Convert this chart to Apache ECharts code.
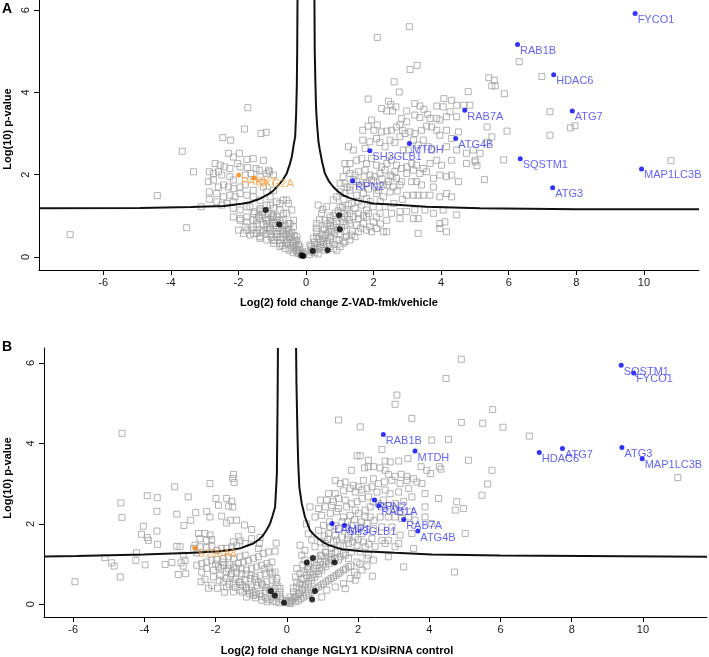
<!DOCTYPE html>
<html><head><meta charset="utf-8">
<script src="https://cdn.jsdelivr.net/npm/echarts@6/dist/echarts.min.js"></script>
<style>html,body{margin:0;padding:0;background:#fff}#c{width:709px;height:657px}</style>
</head><body><div id="c"></div>
<script>
const FONT = 'Liberation Sans, Arial, sans-serif';
const xTicks = [-6,-4,-2,0,2,4,6,8,10];
const yTicks = [0,2,4,6];

// Panel A: Z-VAD-fmk/vehicle
const greyA = [
[-6.98,0.54],[-4.40,1.49],[-3.66,2.57],[-3.33,2.07],[-3.53,0.71],[-3.10,1.22],[-1.72,3.63],[-1.82,3.11],[-2.46,2.90],[-2.23,2.84],[-1.33,3.00],[-1.18,3.03],
[-2.29,2.52],[-2.15,2.43],[-1.97,2.52],[-1.75,2.37],[-1.56,2.39],[-1.26,2.35],
[-2.69,2.27],[-2.54,2.23],[-2.42,2.19],[-2.25,2.15],[-2.03,2.27],[-1.95,2.19],[-1.73,2.17],[-1.48,2.15],[-1.38,2.11],[-1.11,2.11],[-1.08,2.07],
[-2.86,2.07],[-2.74,2.03],[-2.59,2.07],[-2.49,1.99],[-2.25,1.95],[-2.15,1.87],[-1.79,1.99],[-1.63,2.03],[-1.36,1.95],[-1.16,2.03],[-0.96,1.99],
[-2.89,1.83],[-2.74,1.87],[-2.59,1.70],[-2.44,1.75],[-2.29,1.70],[-2.15,1.66],[-1.95,1.70],[-1.80,1.75],[-1.56,1.62],[-1.26,1.70],[-1.16,1.58],[-0.96,1.62],
[-2.86,1.58],[-2.64,1.54],[-2.44,1.46],[-2.25,1.50],[-2.10,1.46],[-1.95,1.54],[-1.75,1.50],[-1.56,1.46],[-1.36,1.38],[-1.06,1.46],
[-2.86,1.40],[-2.64,1.34],[-2.49,1.26],[-2.34,1.30],[-2.15,1.34],
[-2.15,1.18],[-1.95,1.14],[-1.75,1.22],[-1.56,1.06],[-1.36,1.18],[-1.16,1.26],[-0.96,1.18],[-0.77,1.30],[-0.57,1.38],[-0.67,1.06],[-0.86,0.97],[-1.01,1.06],
[-2.15,0.97],[-1.95,0.93],[-1.75,0.85],[-1.56,0.89],[-1.36,0.93],[-1.16,0.89],[-0.96,0.81],[-0.67,0.89],[-0.47,0.81],[-0.37,0.73],[-0.57,0.65],
[-2.00,0.65],[-1.80,0.73],[-1.60,0.65],[-1.46,0.57],[-1.26,0.65],[-1.06,0.57],[-0.86,0.49],[-0.67,0.57],[-0.47,0.49],[-0.32,0.41],[-1.16,0.41],[-1.36,0.45],[-0.96,0.33],[-0.77,0.25],[-0.57,0.33],[-0.42,0.20],[-0.27,0.12],[-0.22,0.08],[-1.65,0.53],[-1.85,0.57],
[-1.66,1.22],[-1.36,1.14],[-1.06,1.26],[-0.87,1.34],[-0.67,1.38],[-0.52,1.30],[-0.77,1.14],[-0.57,1.06],[-0.42,1.14],[-0.97,0.97],[-0.77,0.89],[-0.52,0.81],[-0.37,0.89],[-1.46,0.89],[-1.16,0.81],[-1.95,0.89],[-1.75,0.97],[-1.56,0.73],[-1.36,0.65],[-1.06,0.65],[-0.87,0.57],[-0.67,0.65],[-0.47,0.57],[-0.27,0.49],[-0.97,0.41],[-0.77,0.33],[-0.57,0.41],[-0.37,0.33],[-0.18,0.24],[-0.27,0.16],[-0.08,0.08],[-1.36,0.49],[-1.56,0.57],[-1.75,0.65],
[-1.30,1.02],[-1.20,0.95],[-1.10,0.90],[-1.00,0.84],[-0.90,0.76],[-0.80,0.70],[-0.70,0.62],[-0.60,0.54],[-0.50,0.46],[-0.40,0.38],[-0.30,0.28],[-0.20,0.18],[-0.12,0.10],
[-1.25,0.78],[-1.15,0.72],[-1.05,0.70],[-0.95,0.62],[-0.85,0.55],[-0.75,0.48],[-0.65,0.42],[-0.55,0.36],[-0.45,0.28],[-0.35,0.22],[-0.25,0.16],[-0.15,0.06],
[-1.40,0.98],[-1.28,1.10],[-1.12,1.05],[-0.98,1.00],[-0.88,0.90],[-0.75,0.82],[-0.62,0.76],[-0.52,0.68],[-0.42,0.60],[-0.35,0.52],[-0.28,0.40],[-0.22,0.30],
[-1.52,1.10],[-1.45,0.80],[-1.30,0.60],[-1.18,0.55],[-1.02,0.48],[-0.92,0.40],[-0.70,0.28],[-0.62,0.20],[-0.50,0.16],[-0.38,0.10],
[3.29,4.66],[3.08,4.56],[2.61,4.26],[2.76,4.01],[1.84,3.84],[2.44,3.79],[2.51,3.71],[2.66,3.65],[2.24,3.61],[2.39,3.55],[2.56,3.55],[2.98,3.55],[2.83,3.37],[2.98,3.29],[3.22,3.73],[3.37,3.67],[3.49,3.59],[3.60,3.47],[3.22,3.45],[3.37,3.39],[3.67,3.37],[3.87,3.37],[3.96,3.33],[4.16,3.41],[3.87,3.67],[4.06,3.65],[4.26,3.53],[4.08,3.85],[4.31,3.81],[4.46,3.69],[4.46,3.41],[4.80,4.02],[4.67,3.69],[4.85,3.69],
[1.68,3.08],[1.84,3.18],[1.94,3.33],[2.11,3.21],[2.01,3.08],[2.24,3.04],[2.39,3.06],[2.53,3.08],[2.68,3.16],[2.78,3.21],[2.86,3.08],[2.93,3.00],[3.08,3.04],[3.22,3.00],[3.42,3.08],[3.57,3.18],[3.72,3.16],[3.87,3.08],[3.96,2.96],[4.16,3.08],[4.31,2.88],[4.51,3.04],
[1.26,2.68],[1.40,2.60],[1.68,2.84],[1.75,2.64],[1.89,2.80],[2.09,2.88],[2.19,2.78],[2.34,2.68],[2.49,2.84],[2.63,2.78],[2.78,2.92],[2.88,2.60],[3.03,2.60],[3.18,2.84],[3.32,2.72],[3.47,2.84],[3.62,2.68],[3.72,2.60],[4.16,2.68],[4.46,2.60],[4.75,2.52],[4.95,2.60],[5.15,2.52],
[1.15,2.27],[1.30,2.27],[1.50,2.35],[1.65,2.39],[1.79,2.27],[1.94,2.39],[2.09,2.23],[2.24,2.19],[2.39,2.27],[2.53,2.35],[2.68,2.23],[2.83,2.15],[2.98,2.19],[3.13,2.27],[3.27,2.23],[3.47,2.15],[3.67,2.27],[3.87,2.35],[4.01,2.23],[4.31,2.35],[4.75,2.27],[5.00,2.35],
[1.20,2.11],[1.30,2.03],[1.45,1.99],[1.55,2.07],[1.75,2.11],[1.89,1.99],[2.04,1.95],[2.19,2.03],[2.34,2.11],[2.49,1.99],[2.63,2.07],[2.68,1.91],[2.83,1.83],[2.98,2.03],[3.18,2.11],[3.37,2.03],[3.57,2.07],[3.77,1.91],[3.96,1.99],[4.16,1.95],[4.31,1.99],[4.51,1.83],
[1.01,1.79],[1.15,1.79],[1.30,1.70],[1.50,1.83],[1.65,1.75],[1.79,1.79],[1.94,1.87],[2.09,1.70],[2.29,1.75],[2.44,1.83],[2.58,1.70],[2.78,1.75],[3.13,1.83],[3.27,1.83],[3.42,1.75],[3.77,1.70],
[1.01,1.58],[1.15,1.54],[1.30,1.62],[1.50,1.50],[1.70,1.54],[1.79,1.42],[2.09,1.54],[2.29,1.46],[2.49,1.58],[2.98,1.50],[3.18,1.50],[3.32,1.50],[3.47,1.50],[3.67,1.50],[3.96,1.46],[4.16,1.54],[4.31,1.46],
[1.10,1.95],[1.22,1.70],[1.40,1.88],[1.60,1.70],[1.72,1.95],[1.85,1.65],[2.00,1.85],[2.15,1.62],[2.25,1.90],[2.40,1.75],[2.55,1.95],[2.70,1.60],[1.12,1.40],[1.35,1.30],[1.55,1.35],[1.90,1.35],[2.20,1.35],[2.60,1.30],[2.85,1.40],
[0.91,1.46],[0.81,1.38],[0.36,1.26],[0.61,1.22],[1.01,1.22],[1.25,1.26],[1.45,1.18],[1.65,1.26],[1.79,1.14],[1.99,1.22],[2.19,1.06],[2.34,1.22],[2.53,1.06],[2.78,1.10],[2.98,1.10],[3.22,1.14],[3.52,1.14],[3.77,1.06],[4.06,1.14],[4.46,1.02],
[0.46,1.06],[0.71,0.97],[0.86,1.06],[1.15,0.97],[1.30,1.06],[1.55,0.93],[1.79,0.97],[2.09,0.97],[2.39,0.89],[2.78,0.93],[3.18,0.93],[3.32,0.93],[3.96,0.81],[4.11,0.85],
[0.32,0.81],[0.56,0.89],[0.71,0.77],[0.91,0.81],[1.10,0.85],[1.30,0.81],[1.50,0.77],[1.70,0.81],[1.89,0.73],[2.09,0.69],[2.29,0.61],[2.39,0.61],[3.32,0.57],[3.96,0.69],[4.16,0.61],
[0.30,0.70],[0.32,0.61],[0.51,0.65],[0.76,0.61],[1.01,0.57],[1.15,0.61],[1.35,0.53],[1.55,0.61],[1.79,0.65],[1.94,0.61],
[0.22,0.45],[0.32,0.49],[0.51,0.37],[0.71,0.45],[0.91,0.41],[1.10,0.33],[1.30,0.41],[1.45,0.49],[0.12,0.29],[0.22,0.20],[0.41,0.25],[0.61,0.33],[0.81,0.20],[1.01,0.25],[1.15,0.37],[-0.03,0.12],[0.17,0.16],[0.36,0.07],[0.56,0.16],[0.71,0.25],[0.91,0.16],[-0.13,0.04],
[0.10,0.06],[0.18,0.12],[0.26,0.20],[0.34,0.28],[0.42,0.36],[0.50,0.44],[0.58,0.52],[0.66,0.60],[0.74,0.68],[0.82,0.76],[0.90,0.86],[1.05,0.95],[1.15,1.05],[1.22,1.15],
[0.25,0.10],[0.33,0.18],[0.45,0.22],[0.52,0.30],[0.64,0.40],[0.72,0.50],[0.84,0.58],[0.95,0.66],[1.05,0.72],[1.18,0.78],[1.28,0.90],[1.40,0.98],[1.55,1.05],
[0.15,0.25],[0.25,0.36],[0.38,0.44],[0.45,0.55],[0.55,0.70],[0.62,0.80],[0.72,0.88],[0.80,1.00],[0.95,1.12],[1.08,1.20],[0.40,0.90],[0.50,1.15],
[0.85,0.30],[0.98,0.40],[1.20,0.50],[1.38,0.62],[1.62,0.70],[1.70,1.00],[1.85,1.05],[2.00,0.85],[2.20,0.80],
[3.06,5.60],[2.11,5.34],
[6.31,4.75],[6.98,4.39],[5.41,4.36],[5.57,4.30],[5.50,4.16],[5.60,4.16],[5.87,3.97],[7.22,3.53],[7.22,2.96],[7.83,3.14],[7.96,3.19],[5.95,3.06],[5.50,2.92],[5.36,2.79],[5.85,2.36],[5.28,1.88],[10.80,2.34],[5.36,3.16],[5.01,2.31],[5.06,2.22]
];
const blackA = [[-1.19,1.14],[-0.79,0.79],[-0.08,0.02],[-0.13,0.04],[0.20,0.14],[0.64,0.16],[0.98,1.01],[1.00,0.67]];
const blueA = [
['FYCO1',9.74,5.92],['RAB1B',6.26,5.17],['HDAC6',7.33,4.43],['RAB7A',4.70,3.57],['ATG7',7.88,3.55],['ATG4B',4.43,2.88],
['MTDH',3.06,2.76],['SH3GLB1',1.89,2.58],['SQSTM1',6.34,2.39],['MAP1LC3B',9.93,2.14],['RPN2',1.38,1.85],['ATG3',7.30,1.68]
];
const orangeA = [['PARK7',-1.99,1.99],['NKG2A',-1.54,1.92]];
const curveALeft = [[-7.9,1.18],[-4.9,1.19],[-3.4,1.21],[-2.44,1.24],[-1.9,1.29],[-1.66,1.33],[-1.4,1.40],[-1.16,1.50],[-0.98,1.60],[-0.82,1.74],[-0.68,1.88],[-0.57,2.03],[-0.48,2.25],[-0.42,2.43],[-0.36,2.75],[-0.32,2.92],[-0.29,3.5],[-0.27,4.2],[-0.26,5.0],[-0.25,6.3]];
const curveARight = [[0.25,6.3],[0.26,5.0],[0.28,4.2],[0.30,3.6],[0.33,3.2],[0.37,2.8],[0.41,2.6],[0.48,2.3],[0.56,2.03],[0.67,1.85],[0.81,1.70],[0.95,1.59],[1.10,1.50],[1.30,1.43],[1.50,1.38],[1.99,1.30],[2.78,1.26],[3.57,1.22],[5.15,1.18],[8.0,1.16],[11.63,1.16]];

// Panel B: NGLY1 KD/siRNA control
const greyB = [
[-5.95,0.56],[-4.66,2.52],[-4.63,2.16],[-5.11,1.16],[-4.92,1.03],[-4.85,0.95],[-4.68,0.68],[-4.22,1.28],[-4.24,1.09],[-4.08,1.74],[-3.92,1.66],[-3.89,1.59],[-4.03,1.94],[-3.92,2.70],[-3.64,2.65],[-3.65,2.31],[-3.65,1.82],[-3.63,1.49],[-3.98,0.98],[-3.42,0.99],[-3.23,1.04],[-3.15,2.92],[-3.09,2.24],[-3.00,1.43],[-2.97,1.03],[-2.91,0.95],[-3.05,0.74],[-2.84,0.76],[-2.77,2.67],[-2.70,2.09],[-2.56,2.28],[-2.89,1.96],[-2.48,1.76],[-2.30,1.76],[-2.16,1.72],[-2.44,1.63],[-2.25,1.59],[-2.11,1.61],[-2.16,3.00],[-1.99,2.63],[-1.92,2.46],[-1.69,2.63],[-1.55,2.56],[-1.64,2.44],[-1.52,2.42],[-1.50,3.23],[-1.52,3.13],[-1.48,3.03],[-2.25,2.31],[-2.16,2.17],[-1.83,2.19],[-1.69,2.02],[-1.59,2.09],[-1.41,2.09],[-1.19,1.97],[-0.99,1.86],[-1.36,1.68],[-1.50,1.55],[-1.31,1.58],[-1.17,1.51],[-0.99,1.63],[-0.75,1.66],[-0.77,1.51],[-0.80,1.39],[-0.30,1.52],[-0.33,1.32],[-3.09,1.44],[-2.62,1.39],[-2.58,1.47],[-2.53,1.28],[-2.44,1.43],[-2.25,1.41],[-2.11,1.44],[-1.97,1.34],[-1.83,1.39],[-1.69,1.39],[-1.55,1.43],[-1.41,1.47],[-4.63,4.25],
[-2.91,1.22],[-2.86,1.09],[-2.53,0.97],[-2.39,1.01],[-2.25,1.05],[-2.11,1.09],[-1.97,1.11],[-1.78,1.14],[-1.64,1.18],[-1.50,1.14],[-1.31,1.18],[-1.17,1.22],
[-2.39,0.80],[-2.25,0.89],[-2.06,0.85],[-1.92,0.93],[-1.78,0.97],[-1.64,0.89],[-1.50,0.93],[-1.36,1.01],[-1.22,1.05],[-1.08,1.09],[-0.94,1.14],[-0.80,1.18],[-0.66,1.26],[-0.52,1.30],
[-2.06,0.68],[-1.88,0.72],[-1.69,0.64],[-1.55,0.76],[-1.41,0.80],[-1.27,0.76],[-1.13,0.85],[-0.99,0.89],[-0.85,0.93],[-0.71,0.97],[-0.56,1.01],[-0.42,1.05],
[-1.69,0.43],[-1.50,0.51],[-1.31,0.56],[-1.17,0.60],[-1.03,0.64],[-0.89,0.68],[-0.75,0.72],[-0.61,0.76],[-0.47,0.80],[-0.33,0.80],
[-1.50,0.31],[-1.31,0.35],[-1.13,0.39],[-0.99,0.43],[-0.85,0.47],[-0.71,0.51],[-0.56,0.56],[-0.42,0.60],[-0.28,0.64],
[-1.13,0.18],[-0.94,0.22],[-0.75,0.27],[-0.61,0.31],[-0.47,0.35],[-0.33,0.39],[-0.19,0.39],[-0.38,0.18],[-0.19,0.14],[0.00,0.10],[0.09,0.02],[-2.41,0.56],[-2.11,0.47],
[-2.00,1.00],[-1.85,0.90],[-1.70,0.82],[-1.58,0.70],[-1.45,0.62],[-1.35,0.55],[-1.25,0.48],[-1.15,0.42],[-1.05,0.35],[-0.95,0.30],[-0.85,0.25],[-0.72,0.20],[-0.60,0.16],[-0.50,0.12],[-0.40,0.08],[-0.30,0.06],[-0.20,0.04],
[-1.90,0.60],[-1.78,0.55],[-1.62,0.50],[-1.45,0.42],[-1.25,0.30],[-1.05,0.26],[-0.88,0.16],[-0.70,0.10],[-0.55,0.06],
[-1.80,1.05],[-1.60,0.98],[-1.42,0.90],[-1.28,0.88],[-1.15,0.75],[-1.00,0.72],[-0.90,0.62],[-0.80,0.55],[-0.68,0.48],[-0.58,0.42],[-0.48,0.36],[-0.38,0.30],[-0.28,0.24],[-0.18,0.20],[-0.12,0.10],
[-0.62,0.88],[-0.50,0.92],[-0.40,0.75],[-0.30,0.55],[-0.25,0.45],[-0.20,0.30],[-2.30,0.62],[-2.20,0.40],[-1.95,0.40],[-1.75,0.30],
[4.47,5.61],[3.09,5.20],[3.04,4.97],[1.45,4.58],[2.06,4.41],[3.51,4.62],[4.90,4.52],[5.50,4.50],[2.67,3.85],[4.07,4.08],[4.54,4.10],[3.40,3.62],[5.10,3.58],[1.97,3.69],[2.06,3.69],[2.29,3.58],[2.18,3.39],[2.29,3.42],[2.43,3.42],[1.81,3.33],[2.76,3.56],[2.90,3.54],[3.14,3.56],[2.62,3.39],[2.76,3.33],[3.77,3.42],[3.93,3.33],[4.04,3.25],[4.28,3.42],[4.33,3.36],
[2.85,3.23],[3.04,3.18],[3.21,3.23],[3.37,3.18],[2.15,3.08],[2.43,3.12],[2.57,3.00],[2.74,3.04],[2.95,3.08],[3.18,3.00],[3.37,3.08],[3.56,3.12],[3.65,3.04],[3.79,3.00],[1.36,3.08],[1.50,3.00],[1.64,3.04],[1.87,2.96],[2.01,2.92],
[1.17,2.75],[1.36,2.75],[1.59,2.82],[1.78,2.88],[1.92,2.79],[2.11,2.84],[2.25,2.88],[2.39,2.92],[2.53,2.79],[2.76,2.84],[2.90,2.75],[3.14,2.79],[3.42,2.88],[3.51,2.67],[3.88,2.75],
[0.94,2.59],[1.12,2.59],[1.31,2.55],[1.45,2.63],[1.64,2.59],[1.82,2.50],[1.97,2.55],[2.11,2.63],[2.29,2.67],[2.43,2.55],[2.57,2.50],[2.71,2.59],[2.85,2.46],[3.04,2.50],[3.28,2.55],[4.26,2.63],
[0.65,2.42],[0.89,2.38],[1.08,2.42],[1.26,2.46],[1.45,2.38],[1.68,2.42],[1.92,2.34],[2.20,2.34],[2.34,2.42],[2.67,2.42],[2.99,2.38],[3.18,2.30],[3.46,2.30],[3.88,2.42],[4.77,2.55],[4.96,2.38],[5.48,2.71],
[0.79,2.17],[0.98,2.21],[1.22,2.26],[1.40,2.30],[1.59,2.17],[1.78,2.21],[2.01,2.26],[2.20,2.17],[2.34,2.17],[2.62,2.17],[2.85,2.17],[3.04,2.17],[3.23,2.13],[3.42,2.17],[3.60,2.09],[3.88,2.17],[4.73,2.34],
[1.03,1.96],[1.22,1.92],[1.45,1.88],[1.64,1.92],[1.82,1.96],[2.06,1.92],[2.25,2.01],[2.43,1.88],[2.67,1.92],[2.95,1.92],[3.18,1.72],[3.51,1.76],[4.07,2.01],[5.01,1.76],
[0.89,1.84],[1.17,1.76],[1.36,1.72],[1.54,1.67],[1.73,1.72],[1.92,1.67],[2.11,1.76],[2.39,1.63],[2.67,1.59],[2.85,1.59],[3.14,1.51],[3.56,1.39],
[1.08,1.51],[1.31,1.55],[1.50,1.47],[1.73,1.51],[1.97,1.47],[2.20,1.43],[2.48,1.43],[2.76,1.51],[3.04,1.43],
[1.15,1.62],[1.25,1.40],[1.40,1.60],[1.60,1.45],[1.70,1.62],[1.85,1.55],[2.00,1.60],[2.15,1.55],[2.30,1.50],[1.20,2.05],[1.35,1.95],[1.55,2.05],[1.70,2.05],[1.90,2.10],[2.10,2.05],[2.45,2.08],[1.05,1.70],[0.95,1.55],[0.70,1.60],[0.60,1.75],[0.55,2.00],
[1.08,1.30],[1.36,1.30],[1.59,1.26],[1.82,1.30],[2.06,1.30],[2.29,1.22],[2.43,1.10],[2.85,1.18],[3.28,0.93],[4.71,0.80],
[0.79,1.43],[0.94,1.22],[1.17,1.18],[1.45,1.10],[1.73,1.14],[1.97,1.05],[2.25,1.14],[0.37,1.47],[0.42,1.22],[0.51,1.34],
[0.14,0.10],[0.23,0.18],[0.33,0.26],[0.42,0.35],[0.51,0.43],[0.61,0.51],[0.70,0.60],[0.79,0.68],[0.89,0.76],[0.98,0.85],[1.08,0.93],[1.17,1.01],[1.26,1.10],[1.36,1.14],[1.50,1.18],[1.64,1.22],
[0.09,0.18],[0.19,0.31],[0.28,0.43],[0.37,0.51],[0.47,0.64],[0.56,0.72],[0.65,0.80],[0.75,0.89],[0.84,0.97],[0.94,1.05],
[0.33,0.10],[0.47,0.18],[0.61,0.26],[0.75,0.35],[0.89,0.43],[1.03,0.51],[1.17,0.60],[1.31,0.68],[1.45,0.76],[1.59,0.85],[1.73,0.93],
[0.98,0.18],[1.12,0.35],[1.36,0.43],[1.59,0.51],[1.78,0.64],[1.97,0.72],[2.11,0.85],[1.92,0.60],[1.64,0.39],[0.00,0.06],[0.37,0.76],[0.28,0.89],[0.24,0.68],[0.61,0.93],[0.51,1.10],
[0.05,0.04],[0.12,0.08],[0.20,0.14],[0.28,0.20],[0.36,0.28],[0.44,0.38],[0.52,0.48],[0.60,0.56],[0.68,0.66],[0.76,0.74],[0.85,0.82],[0.93,0.90],[1.02,0.98],[1.10,1.06],[1.22,1.12],
[0.25,0.06],[0.40,0.14],[0.55,0.22],[0.68,0.30],[0.82,0.40],[0.96,0.48],[1.10,0.56],[1.24,0.64],[1.38,0.72],[1.50,0.80],[1.65,0.88],[1.80,0.95],
[0.18,0.40],[0.28,0.55],[0.40,0.62],[0.48,0.80],[0.58,0.88],[0.66,1.00],[0.78,1.05],[0.88,1.12],[0.98,1.20],[1.10,1.28],[1.25,1.25],[1.42,1.30],
[1.90,0.80],[2.05,1.00],[2.25,0.95],[2.40,0.70],[0.45,0.98],
[4.90,6.09],[5.78,4.84],[6.07,4.40],[6.81,4.18],[5.76,3.33],[5.64,2.99],[10.98,3.15]
];
const blackB = [[0.56,1.04],[0.73,1.15],[1.34,1.04],[-0.45,0.33],[-0.34,0.22],[-0.08,0.04],[0.79,0.33],[0.71,0.12]];
const blueB = [
['SQSTM1',9.39,5.94],['FYCO1',9.74,5.75],['RAB1B',2.71,4.22],['MTDH',3.60,3.81],['HDAC6',7.09,3.77],['ATG7',7.74,3.87],
['ATG3',9.41,3.90],['MAP1LC3B',9.98,3.62],['RPN2',2.46,2.59],['RAB1A',2.58,2.45],['RAB7A',3.28,2.11],['ATG4B',3.68,1.82],
['LAMP1',1.27,2.01],['SH3GLB1',1.62,1.96]
];
const orangeB = [['S100A8',-2.58,1.40]];
const curveBLeft = [[-6.82,1.19],[-5.9,1.20],[-4.03,1.24],[-2.62,1.28],[-1.88,1.32],[-1.5,1.36],[-1.31,1.39],[-1.1,1.46],[-0.94,1.51],[-0.78,1.61],[-0.66,1.72],[-0.56,1.86],[-0.47,2.01],[-0.40,2.2],[-0.33,2.42],[-0.30,2.9],[-0.28,3.25],[-0.27,4.08],[-0.26,5.0],[-0.25,6.37]];
const curveBRight = [[0.26,6.37],[0.27,5.5],[0.30,4.16],[0.32,3.5],[0.35,2.92],[0.42,2.50],[0.51,2.17],[0.65,1.84],[0.77,1.72],[0.89,1.63],[1.03,1.54],[1.17,1.47],[1.54,1.37],[2.11,1.32],[3.04,1.28],[4.07,1.24],[6.0,1.21],[11.8,1.18]];

function xAxisDef(g, min, max) {
  return {gridIndex:g, type:'value', min:min, max:max,
    axisLine:{onZero:false, lineStyle:{color:'#000', width:1}},
    axisTick:{show:true, customValues:xTicks, length:5, lineStyle:{color:'#000'}},
    axisLabel:{customValues:xTicks, margin:7, fontSize:11, color:'#1a1a1a', fontFamily:FONT},
    splitLine:{show:false}};
}
function yAxisDef(g, min, max) {
  return {gridIndex:g, type:'value', min:min, max:max,
    axisLine:{onZero:false, lineStyle:{color:'#000', width:1}},
    axisTick:{show:true, customValues:yTicks, length:5, lineStyle:{color:'#000'}},
    axisLabel:{customValues:yTicks, rotate:90, margin:8, fontSize:11, color:'#1a1a1a', fontFamily:FONT},
    splitLine:{show:false}};
}
function panelSeries(g, grey, black, blue, orange, cl, cr) {
  const named = arr => arr.map(d => ({name:d[0], value:[d[1], d[2]]}));
  const lbl = color => ({show:true, formatter:'{b}', position:[5,9], align:'left', verticalAlign:'middle',
    color:color, fontSize:11, fontFamily:FONT});
  return [
    {type:'scatter', xAxisIndex:g, yAxisIndex:g, data:grey, symbol:'rect', symbolSize:6, z:1,
      itemStyle:{color:'rgba(255,255,255,0)', borderColor:'#a0a0a0', borderWidth:1}, silent:true},
    {type:'scatter', xAxisIndex:g, yAxisIndex:g, data:black, symbol:'circle', symbolSize:6, z:2,
      itemStyle:{color:'#000'}},
    {type:'line', xAxisIndex:g, yAxisIndex:g, data:cl, showSymbol:false, symbol:'none', z:3,
      lineStyle:{color:'#111', width:2}},
    {type:'line', xAxisIndex:g, yAxisIndex:g, data:cr, showSymbol:false, symbol:'none', z:3,
      lineStyle:{color:'#111', width:2}},
    {type:'scatter', xAxisIndex:g, yAxisIndex:g, data:named(blue), symbol:'circle', symbolSize:5, z:4,
      itemStyle:{color:'#0000ff'}, label:lbl('#3b3bf2')},
    {type:'scatter', xAxisIndex:g, yAxisIndex:g, data:named(orange), symbol:'circle', symbolSize:5, z:4,
      itemStyle:{color:'#ff8000'}, label:lbl('#ff9a33')}
  ];
}
const chart = echarts.init(document.getElementById('c'), null, {renderer:'canvas'});
const titleFont = 'bold 11px ' + FONT;
chart.setOption({
  animation:false,
  backgroundColor:'#fff',
  grid:[
    {left:39, top:0, width:660, height:270},
    {left:44, top:348, width:663, height:269}
  ],
  xAxis:[xAxisDef(0, -7.9, 11.63), xAxisDef(1, -6.82, 11.8)],
  yAxis:[yAxisDef(0, -0.32, 6.25), yAxisDef(1, -0.316, 6.37)],
  series: panelSeries(0, greyA, blackA, blueA, orangeA, curveALeft, curveARight)
    .concat(panelSeries(1, greyB, blackB, blueB, orangeB, curveBLeft, curveBRight)),
  graphic:[
    {type:'text', left:2, top:2, style:{text:'A', font:'bold 14px ' + FONT, fill:'#000'}},
    {type:'text', left:2, top:340, style:{text:'B', font:'bold 14px ' + FONT, fill:'#000'}},
    {type:'text', x:8, y:129, rotation:Math.PI/2, style:{text:'Log(10) p-value', font:titleFont, fill:'#000', align:'center', verticalAlign:'middle'}},
    {type:'text', x:8, y:478, rotation:Math.PI/2, style:{text:'Log(10) p-value', font:titleFont, fill:'#000', align:'center', verticalAlign:'middle'}},
    {type:'text', x:339, y:303, style:{text:'Log(2) fold change Z-VAD-fmk/vehicle', font:titleFont, fill:'#000', align:'center', verticalAlign:'middle'}},
    {type:'text', x:337, y:651, style:{text:'Log(2) fold change NGLY1 KD/siRNA control', font:titleFont, fill:'#000', align:'center', verticalAlign:'middle'}}
  ]
});
</script></body></html>
